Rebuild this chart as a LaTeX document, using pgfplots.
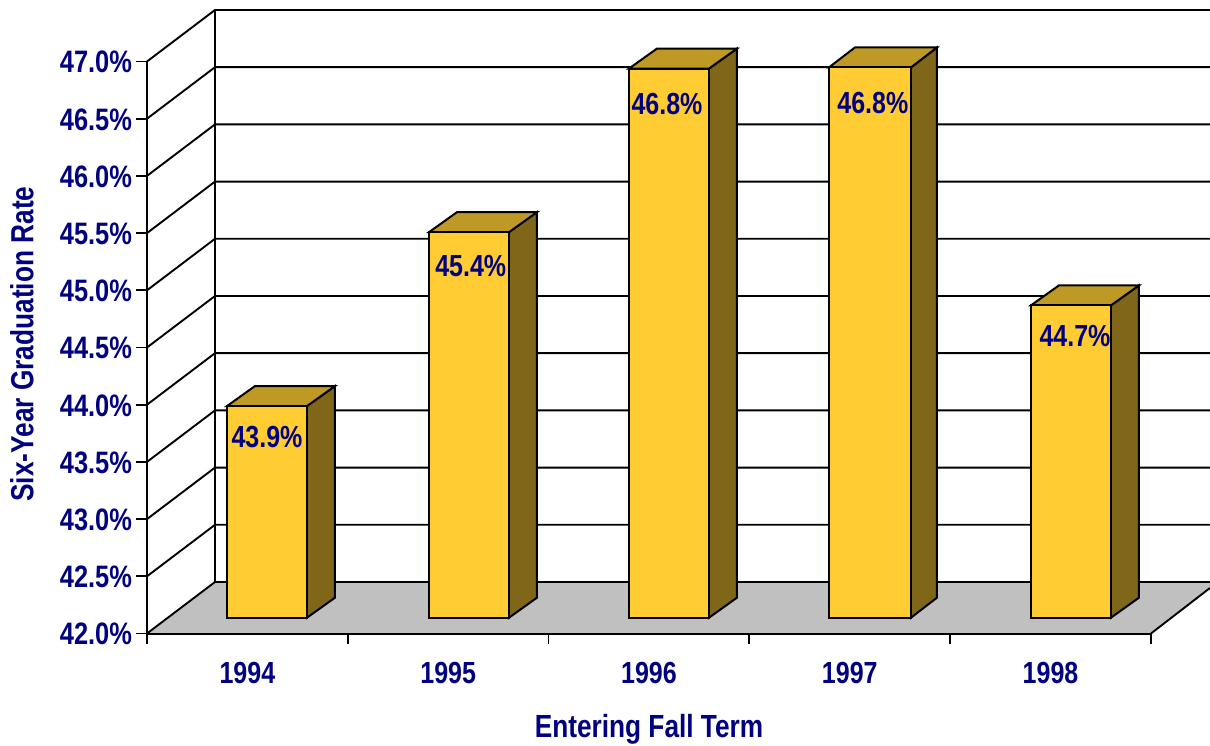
\documentclass[border=0pt]{standalone}
\usepackage{fontspec}
\setmainfont[FakeStretch=0.82,BoldFont={Liberation Sans Bold}]{Liberation Sans}
\usepackage{pgfplots}
\pgfplotsset{compat=1.18}
\definecolor{navyt}{HTML}{000080}
\definecolor{front}{HTML}{FFCC33}
\definecolor{sidef}{HTML}{7F6619}
\definecolor{topf}{HTML}{BF9926}
\definecolor{floorc}{HTML}{C0C0C0}
\newcommand{\labT}{\fontsize{32}{34}\selectfont\bfseries\color{navyt}}
\newcommand{\labK}{\fontsize{31}{33}\selectfont\bfseries\color{navyt}}
\newcommand{\labD}{\fontsize{30.5}{33}\selectfont\bfseries\color{navyt}}
\begin{document}
\begin{tikzpicture}
\useasboundingbox (0,0) rectangle (1210pt,745pt);
\begin{axis}[
  at={(147pt,111.5pt)}, anchor=south west,
  scale only axis, width=1004pt, height=572pt,
  xmin=0, xmax=5, ymin=42, ymax=47,
  clip=false, axis on top=false,
  axis x line=bottom, axis y line=left,
  axis line style={-, line width=2pt, black},
  tick align=outside,
  ytick={42,42.5,43,43.5,44,44.5,45,45.5,46,46.5,47},
  yticklabel={\pgfmathprintnumber[fixed,fixed zerofill,precision=1,assume math mode=true]{\tick}\%},
  yticklabel style={font=\labK, anchor=east, xshift=-1pt, yshift=-0.7pt},
  major tick length=10.5pt,
  tick style={line width=1.8pt, black},
  xtick={0,1,2,3,4,5},
  xticklabels={},
  extra x ticks={0.5,1.5,2.5,3.5,4.5},
  extra x tick labels={1994,1995,1996,1997,1998},
  extra x tick style={major tick length=0pt, tick style={draw=none},
    xticklabel style={font=\labD, anchor=center, yshift=-39.5pt}},
  xlabel={Entering Fall Term},
  ylabel={Six-Year Graduation Rate},
  xlabel style={font=\labT, at={(axis description cs:0.5,-0.167)}, anchor=center},
  ylabel style={font=\labT, at={(axis description cs:-0.1245,0.506)}, anchor=center},
]
% floor
\addplot[draw=none, fill=floorc, forget plot] coordinates {(0,42) (0.3386,42.4502) (5.2938,42.4502) (5.2938,42.3977) (5,42)} -- cycle;
% back wall and side wall grid
\addplot[black, line width=1.9pt, forget plot] coordinates {(0,42) (0.3386,42.4502) (5.2938,42.4502)};
\addplot[black, line width=1.9pt, forget plot] coordinates {(0,42.5) (0.3386,42.9502) (5.2938,42.9502)};
\addplot[black, line width=1.9pt, forget plot] coordinates {(0,43) (0.3386,43.4502) (5.2938,43.4502)};
\addplot[black, line width=1.9pt, forget plot] coordinates {(0,43.5) (0.3386,43.9502) (5.2938,43.9502)};
\addplot[black, line width=1.9pt, forget plot] coordinates {(0,44) (0.3386,44.4502) (5.2938,44.4502)};
\addplot[black, line width=1.9pt, forget plot] coordinates {(0,44.5) (0.3386,44.9502) (5.2938,44.9502)};
\addplot[black, line width=1.9pt, forget plot] coordinates {(0,45) (0.3386,45.4502) (5.2938,45.4502)};
\addplot[black, line width=1.9pt, forget plot] coordinates {(0,45.5) (0.3386,45.9502) (5.2938,45.9502)};
\addplot[black, line width=1.9pt, forget plot] coordinates {(0,46) (0.3386,46.4502) (5.2938,46.4502)};
\addplot[black, line width=1.9pt, forget plot] coordinates {(0,46.5) (0.3386,46.9502) (5.2938,46.9502)};
\addplot[black, line width=1.9pt, forget plot] coordinates {(0,47) (0.3386,47.4502) (5.2938,47.4502)};
\addplot[black, line width=1.9pt, forget plot] coordinates {(0.3386,42.4502) (0.3386,47.4502)};
\addplot[black, line width=1.9pt, forget plot] coordinates {(5,42) (5.2938,42.3977)};
\addplot[black, line width=2pt, forget plot] coordinates {(0,42) (5,42)};
% bar sides and tops, shifted with the front faces onto the floor
\pgfplotsset{sidebar/.style={yshift=15.8pt, draw=black, line width=2pt, fill=sidef, forget plot},
             topbar/.style={yshift=15.8pt, draw=black, line width=2pt, fill=topf, forget plot}}
\addplot[sidebar] coordinates {(0.7968,42) (0.9362,42.1748) (0.9362,44.0248) (0.7968,43.85)} -- cycle;
\addplot[topbar] coordinates {(0.3984,43.85) (0.5378,44.0248) (0.9362,44.0248) (0.7968,43.85)} -- cycle;
\addplot[sidebar] coordinates {(1.8028,42) (1.9422,42.1748) (1.9422,45.5448) (1.8028,45.37)} -- cycle;
\addplot[topbar] coordinates {(1.4044,45.37) (1.5438,45.5448) (1.9422,45.5448) (1.8028,45.37)} -- cycle;
\addplot[sidebar] coordinates {(2.7988,42) (2.9382,42.1748) (2.9382,46.9748) (2.7988,46.80)} -- cycle;
\addplot[topbar] coordinates {(2.4004,46.80) (2.5398,46.9748) (2.9382,46.9748) (2.7988,46.80)} -- cycle;
\addplot[sidebar] coordinates {(3.8048,42) (3.9342,42.1748) (3.9342,46.9848) (3.8048,46.81)} -- cycle;
\addplot[topbar] coordinates {(3.3964,46.81) (3.5258,46.9848) (3.9342,46.9848) (3.8048,46.81)} -- cycle;
\addplot[sidebar] coordinates {(4.8008,42) (4.9402,42.1748) (4.9402,44.9048) (4.8008,44.73)} -- cycle;
\addplot[topbar] coordinates {(4.4024,44.73) (4.5418,44.9048) (4.9402,44.9048) (4.8008,44.73)} -- cycle;
% bar front faces
\addplot[ybar, bar shift=0pt, bar width=80pt, yshift=15.8pt, draw=black, line width=2pt, fill=front, forget plot]
  coordinates {(0.5976,43.85) (1.6036,45.37) (2.5996,46.80) (4.6016,44.73)};
\addplot[ybar, bar shift=0pt, bar width=82pt, yshift=15.8pt, draw=black, line width=2pt, fill=front, forget plot]
  coordinates {(3.6006,46.81)};
% data labels
\node[font=\labD, anchor=center] at (axis cs:0.5976,43.72) {43.9\%};
\node[font=\labD, anchor=center] at (axis cs:1.6125,45.21) {45.4\%};
\node[font=\labD, anchor=center] at (axis cs:2.5896,46.63) {46.8\%};
\node[font=\labD, anchor=center] at (axis cs:3.6150,46.64) {46.8\%};
\node[font=\labD, anchor=center] at (axis cs:4.6215,44.60) {44.7\%};
\end{axis}
\end{tikzpicture}
\end{document}
